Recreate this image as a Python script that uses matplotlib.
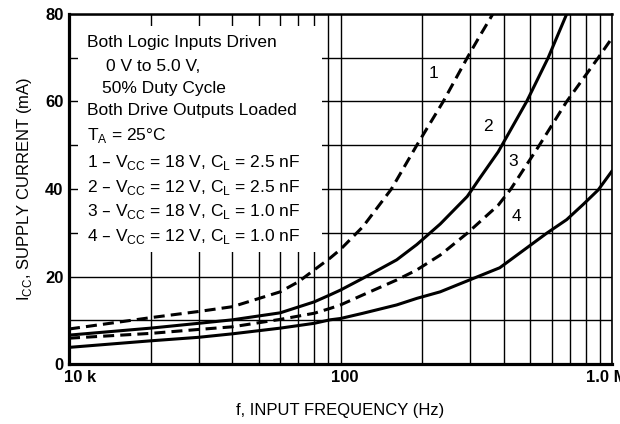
import matplotlib
matplotlib.use("Agg")
import matplotlib.pyplot as plt
import matplotlib.transforms as mtransforms
from matplotlib.patches import Rectangle
from matplotlib.ticker import FixedLocator, NullFormatter

plt.rcParams['font.family'] = ['Liberation Sans', 'DejaVu Sans']

# frequency (kHz) and supply current (mA)
f1 = [10, 20, 30, 40, 60, 70, 80, 91.5, 100, 121, 154, 191, 239, 293, 326, 364]
i1 = [8.0, 10.6, 12.0, 13.1, 16.5, 18.8, 21.5, 24.2, 26.2, 31.4, 40.0, 50.0, 60.0, 70.0, 75.0, 80.0]

f2 = [10, 20, 30, 40, 60, 80, 91.5, 100, 121, 161, 191, 233, 293, 326, 381, 485, 582, 681]
i2 = [6.6, 8.2, 9.3, 10.1, 11.7, 14.2, 15.8, 16.9, 19.6, 23.8, 27.3, 32.0, 38.3, 42.5, 48.5, 60.0, 70.0, 80.0]

f3 = [10, 20, 30, 40, 60, 80, 91.5, 100, 121, 161, 191, 233, 293, 326, 381, 424, 540, 681, 890, 997]
i3 = [5.9, 7.0, 7.9, 8.5, 10.2, 11.6, 12.7, 13.5, 15.8, 19.2, 21.5, 24.9, 29.9, 32.5, 36.3, 40.0, 50.0, 60.0, 70.0, 74.4]

f4 = [10, 20, 30, 40, 60, 80, 91.5, 100, 121, 161, 191, 233, 293, 386, 575, 681, 784, 890, 997]
i4 = [3.8, 5.3, 6.1, 6.9, 8.2, 9.3, 10.1, 10.4, 11.6, 13.5, 15.0, 16.5, 19.0, 22.0, 29.9, 33.0, 36.5, 39.8, 44.0]

x_ticks = [10, 100, 1000]
x_ticklabels = ['10 k', '100', '1.0 M']
y_ticks = [0, 20, 40, 60, 80]

legend_lines = [
    "1 \u2013 V$_\\mathregular{CC}$ = 18 V, C$_\\mathregular{L}$ = 2.5 nF",
    "2 \u2013 V$_\\mathregular{CC}$ = 12 V, C$_\\mathregular{L}$ = 2.5 nF",
    "3 \u2013 V$_\\mathregular{CC}$ = 18 V, C$_\\mathregular{L}$ = 1.0 nF",
    "4 \u2013 V$_\\mathregular{CC}$ = 12 V, C$_\\mathregular{L}$ = 1.0 nF",
]

fig = plt.figure(figsize=(6.2, 4.24), dpi=100)
ax = fig.add_axes([0.1113, 0.1415, 0.8758, 0.8255])

ax.set_xscale('log')
ax.set_xlim(10, 1000)
ax.set_ylim(0, 80)

ax.xaxis.set_major_locator(FixedLocator(x_ticks))
ax.xaxis.set_minor_locator(FixedLocator([v * d for d in (10, 100) for v in range(2, 10)]))
ax.xaxis.set_minor_formatter(NullFormatter())
ax.set_xticklabels(x_ticklabels)
ax.yaxis.set_major_locator(FixedLocator(y_ticks))
ax.yaxis.set_minor_locator(FixedLocator([10, 30, 50, 70]))

ax.grid(True, which='both', color='black', linewidth=1.0, zorder=1)
ax.tick_params(which='both', length=0, labelsize=12, pad=4)
for lab in ax.get_xticklabels() + ax.get_yticklabels():
    lab.set_fontweight('bold')

# nudge the end labels the way the datasheet sets them
xl = ax.get_xticklabels()
xl[0].set_transform(xl[0].get_transform() + mtransforms.ScaledTranslation(11 / 100, 0, fig.dpi_scale_trans))
xl[1].set_transform(xl[1].get_transform() + mtransforms.ScaledTranslation(4 / 100, 0, fig.dpi_scale_trans))
xl[2].set_transform(xl[2].get_transform() + mtransforms.ScaledTranslation(-5 / 100, 0, fig.dpi_scale_trans))

for s in ax.spines.values():
    s.set_linewidth(1.2)
ax.spines['left'].set_linewidth(2.3)
ax.spines['bottom'].set_linewidth(2.3)
ax.spines['top'].set_linewidth(1.8)

# white panel for the conditions text
ax.add_patch(Rectangle((0.017, 0.32), 0.449, 0.646, transform=ax.transAxes,
                       facecolor='white', edgecolor='none', zorder=2))

lw = 2.2
ax.plot(f1, i1, color='black', lw=lw, dashes=(3.6, 2.0), zorder=3)
ax.plot(f2, i2, color='black', lw=lw, zorder=3)
ax.plot(f3, i3, color='black', lw=lw, dashes=(3.6, 2.0), zorder=3)
ax.plot(f4, i4, color='black', lw=lw, zorder=3)

fs = 12.5
ax.text(0.672, 0.831, "1", transform=ax.transAxes, fontsize=fs, ha='center', va='center', zorder=4)
ax.text(0.772, 0.678, "2", transform=ax.transAxes, fontsize=fs, ha='center', va='center', zorder=4)
ax.text(0.818, 0.578, "3", transform=ax.transAxes, fontsize=fs, ha='center', va='center', zorder=4)
ax.text(0.824, 0.421, "4", transform=ax.transAxes, fontsize=fs, ha='center', va='center', zorder=4)

tx = 0.033
header = [
    (tx, 43, "Both Logic Inputs Driven"),
    (0.068, 67, "0 V to 5.0 V,"),
    (0.060, 89, "50% Duty Cycle"),
    (tx, 111, "Both Drive Outputs Loaded"),
    (tx, 136, "T$_\\mathregular{A}$ = 25\u00b0C"),
]
for x, ypx, s in header:
    ax.text(x, (364 - ypx) / 350, s, transform=ax.transAxes, fontsize=fs,
            ha='left', va='center', zorder=4)
for k, s in enumerate(legend_lines):
    ypx = 163 + 24.5 * k
    ax.text(tx, (364 - ypx) / 350, s, transform=ax.transAxes, fontsize=fs,
            ha='left', va='center', zorder=4)

ax.set_ylabel("I$_\\mathregular{CC}$, SUPPLY CURRENT (mA)", fontsize=12, labelpad=8)
ax.set_xlabel("f, INPUT FREQUENCY (Hz)", fontsize=12, labelpad=13)

fig.savefig("out.png", dpi=100)
